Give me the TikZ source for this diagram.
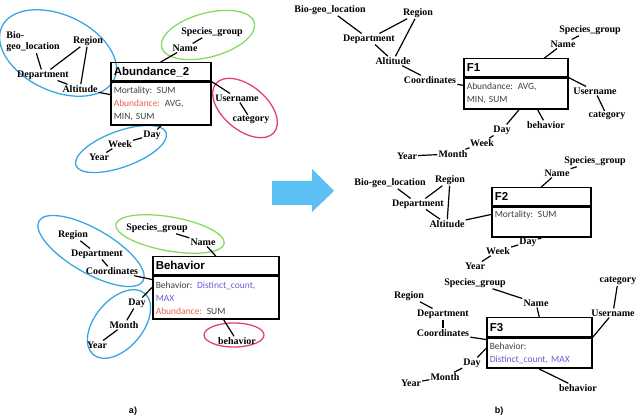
\documentclass[tikz,border=0pt]{standalone}
\usepackage{fontspec}
\setmainfont{Liberation Serif}
\newfontfamily\headfont{Liberation Sans}
\newfontfamily\bodyfont{Carlito}
\usepackage{tikz}
\usetikzlibrary{positioning}
\usepackage{xcolor}
\definecolor{DimBlue}{HTML}{3BA6E0}
\definecolor{DimGreen}{HTML}{86DC5E}
\definecolor{DimRed}{HTML}{E0426F}
\definecolor{ArrowBlue}{HTML}{5CC0F4}
\definecolor{MeasRed}{HTML}{E8604C}
\definecolor{AggBlue}{HTML}{6A5CD8}
\definecolor{BodyGrey}{HTML}{404040}

\begin{document}
\begin{tikzpicture}[x=1pt, y=-1pt,
    attr/.style={font=\bfseries\fontsize{10}{11}\selectfont, inner sep=1pt},
    link/.style={line width=1.2pt, black},
    dimring/.style={line width=1.3pt},
    facthead/.style={draw, line width=1.5pt, anchor=north west, inner sep=3pt, align=left,
      font=\headfont\bfseries\fontsize{11.5}{13}\selectfont},
    factbody/.style={draw, line width=1.5pt, anchor=north west, inner sep=3pt, align=left,
      font=\bodyfont\fontsize{9.5}{13}\selectfont, text=BodyGrey}]
  \useasboundingbox (0,0) rectangle (640,419);

  % a) Abundance_2
  \draw[dimring, DimBlue, rotate around={-25:(58,53)}] (58,53) ellipse (62 and 38);
  \draw[dimring, DimGreen, rotate around={15:(208,35)}] (208,35) ellipse (48 and 22);
  \draw[dimring, DimRed, rotate around={-40:(245,108)}] (245,108) ellipse (38 and 22);
  \draw[dimring, DimBlue, rotate around={20:(121,149)}] (121,149) ellipse (48 and 18);
  \node[facthead, text width=94pt, minimum height=18pt] (ab2) at (110,62) {Abundance\_2};
  \node[factbody, text width=94pt, minimum height=43pt] (ab2b) at (ab2.south west)
    {Mortality: SUM\\\textcolor{MeasRed}{Abundance:} AVG,\\MIN, SUM};
  \node[attr, align=left] (bgl1) at (33,42) {Bio-\\geo\_location};
  \node[attr] (reg1) at (88,41) {Region};
  \node[attr] (dep1) at (43,75) {Department};
  \node[attr] (alt1) at (80,89) {Altitude};
  \node[attr] (spg1) at (212,32) {Species\_group};
  \node[attr] (nam1) at (185,48) {Name};
  \node[attr] (usr1) at (237,98) {Username};
  \node[attr] (cat1) at (251,120) {category};
  \node[attr] (day1) at (152,135) {Day};
  \node[attr] (wek1) at (120,144) {Week};
  \node[attr] (yer1) at (99,157) {Year};
  \draw[link] (bgl1) -- (dep1);
  \draw[link] (reg1) -- (dep1);
  \draw[link] (reg1) -- (alt1);
  \draw[link] (dep1) -- (alt1);
  \draw[link] (alt1) -- (ab2b);
  \draw[link] (spg1) -- (nam1);
  \draw[link] (nam1) -- (ab2.north);
  \draw[link] (ab2.south east) -- (usr1);
  \draw[link] (usr1) -- (cat1);
  \draw[link] (ab2b.south) -- (day1);
  \draw[link] (day1) -- (wek1);
  \draw[link] (wek1) -- (yer1);

  % a) Behavior
  \draw[dimring, DimBlue, rotate around={-30:(91,251)}] (91,251) ellipse (60 and 22);
  \draw[dimring, DimGreen, rotate around={-10:(170,234)}] (170,234) ellipse (55 and 17);
  \draw[dimring, DimBlue, rotate around={50:(119,324)}] (119,324) ellipse (40 and 24);
  \draw[dimring, DimRed] (234,335) ellipse (30 and 12);
  \node[facthead, text width=120pt, minimum height=18pt] (bhv) at (152,256) {Behavior};
  \node[factbody, text width=120pt, minimum height=43pt] (bhvb) at (bhv.south west)
    {Behavior: \textcolor{AggBlue}{Distinct\_count,}\\\textcolor{AggBlue}{MAX}\\\textcolor{MeasRed}{Abundance:} SUM};
  \node[attr] (reg2) at (73,235) {Region};
  \node[attr] (dep2) at (97,254) {Department};
  \node[attr] (crd2) at (112,271) {Coordinates};
  \node[attr] (spg2) at (157,228) {Species\_group};
  \node[attr] (nam2) at (203,242) {Name};
  \node[attr] (day2) at (137,303) {Day};
  \node[attr] (mon2) at (124,325) {Month};
  \node[attr] (yer2) at (97,345) {Year};
  \node[attr] (beh2) at (237,341) {behavior};
  \draw[link] (reg2) -- (dep2);
  \draw[link] (dep2) -- (crd2);
  \draw[link] (crd2) -- ([yshift=-4pt]bhvb.north west);
  \draw[link] (spg2) -- (nam2);
  \draw[link] (nam2) -- (bhv.north);
  \draw[link] ([yshift=-12pt]bhvb.north west) -- (day2);
  \draw[link] (day2) -- (mon2);
  \draw[link] (mon2) -- (yer2);
  \draw[link] ([xshift=8pt]bhvb.south) -- (beh2);

  \node[font=\headfont\bfseries\fontsize{9}{10}\selectfont] (capa) at (133,411) {a)};

  % arrow between panels
  \fill[ArrowBlue] (272,181) -- (312,181) -- (312,169) -- (334,191) -- (312,212) -- (312,205) -- (272,205) -- cycle;

  % b) F1
  \node[facthead, text width=98pt, minimum height=18pt] (f1) at (463,58) {F1};
  \node[factbody, text width=98pt, minimum height=31pt] (f1b) at (f1.south west)
    {Abundance: AVG,\\MIN, SUM};
  \node[attr] (bgl3) at (330,10) {Bio-geo\_location};
  \node[attr] (reg3) at (418,13) {Region};
  \node[attr] (dep3) at (369,39) {Department};
  \node[attr] (alt3) at (393,61) {Altitude};
  \node[attr] (crd3) at (430,80) {Coordinates};
  \node[attr] (spg3) at (590,30) {Species\_group};
  \node[attr] (nam3) at (563,44) {Name};
  \node[attr] (usr3) at (595,91) {Username};
  \node[attr] (cat3) at (607,116) {category};
  \node[attr] (beh3) at (546,125) {behavior};
  \node[attr] (day3) at (502,130) {Day};
  \node[attr] (wek3) at (482,143) {Week};
  \node[attr] (mon3) at (453,154) {Month};
  \node[attr] (yer3) at (407,156) {Year};
  \draw[link] (bgl3) -- (dep3);
  \draw[link] (dep3) -- (reg3);
  \draw[link] (reg3) -- (alt3);
  \draw[link] (dep3) -- (alt3);
  \draw[link] (alt3) -- (crd3);
  \draw[link] (crd3) -- (f1b);
  \draw[link] (spg3) -- (nam3);
  \draw[link] (nam3) -- ([xshift=-24pt]f1.north east);
  \draw[link] (f1.south east) -- (usr3);
  \draw[link] (usr3) -- (cat3);
  \draw[link] ([xshift=22pt]f1b.south) -- (beh3);
  \draw[link] ([xshift=3pt]f1b.south) -- (day3);
  \draw[link] (day3) -- (wek3);
  \draw[link] (wek3) -- (mon3);
  \draw[link] (mon3) -- (yer3);

  % b) F2
  \node[facthead, text width=93pt, minimum height=18pt] (f2) at (491,187) {F2};
  \node[factbody, text width=93pt, minimum height=30pt] (f2b) at (f2.south west)
    {Mortality: SUM\\\strut};
  \node[attr] (spg4) at (595,161) {Species\_group};
  \node[attr] (nam4) at (557,173) {Name};
  \node[attr] (bgl4) at (390,183) {Bio-geo\_location};
  \node[attr] (reg4) at (450,180) {Region};
  \node[attr] (dep4) at (418,204) {Department};
  \node[attr] (alt4) at (447,224) {Altitude};
  \node[attr] (day4) at (528,242) {Day};
  \node[attr] (wek4) at (498,251) {Week};
  \node[attr] (yer4) at (475,266) {Year};
  \draw[link] (spg4) -- (nam4);
  \draw[link] (nam4) -- (f2.north);
  \draw[link] (bgl4) -- (dep4);
  \draw[link] (reg4) -- (dep4);
  \draw[link] (reg4) -- (alt4);
  \draw[link] (dep4) -- (alt4);
  \draw[link] (alt4) -- ([yshift=-8pt]f2b.north west);
  \draw[link] (f2b.south) -- (day4);
  \draw[link] (day4) -- (wek4);
  \draw[link] (wek4) -- (yer4);

  % b) F3
  \node[facthead, text width=99pt, minimum height=19pt] (f3) at (486,317) {F3};
  \node[factbody, text width=99pt, minimum height=30pt] (f3b) at (f3.south west)
    {Behavior:\\\textcolor{AggBlue}{Distinct\_count, MAX}};
  \node[attr] (spg5) at (475,283) {Species\_group};
  \node[attr] (nam5) at (536,303) {Name};
  \node[attr] (cat5) at (618,281) {category};
  \node[attr] (usr5) at (613,313) {Username};
  \node[attr] (reg5) at (409,296) {Region};
  \node[attr] (dep5) at (443,314) {Department};
  \node[attr] (crd5) at (443,333) {Coordinates};
  \node[attr] (day5) at (472,363) {Day};
  \node[attr] (mon5) at (445,377) {Month};
  \node[attr] (yer5) at (411,383) {Year};
  \node[attr] (beh5) at (578,388) {behavior};
  \draw[link] (spg5) -- (nam5);
  \draw[link] (nam5) -- (f3.north);
  \draw[link] (f3.south east) -- (usr5);
  \draw[link] (usr5) -- (cat5);
  \draw[link] (reg5) -- (dep5);
  \draw[link] (dep5) -- (crd5);
  \draw[link] (crd5) -- ([yshift=-2pt]f3b.north west);
  \draw[link] ([yshift=-11pt]f3b.north west) -- (day5);
  \draw[link] (day5) -- (mon5);
  \draw[link] (mon5) -- (yer5);
  \draw[link] (f3b.south) -- (beh5);

  \node[font=\headfont\bfseries\fontsize{9}{10}\selectfont] (capb) at (499,411) {b)};
\end{tikzpicture}
\end{document}
